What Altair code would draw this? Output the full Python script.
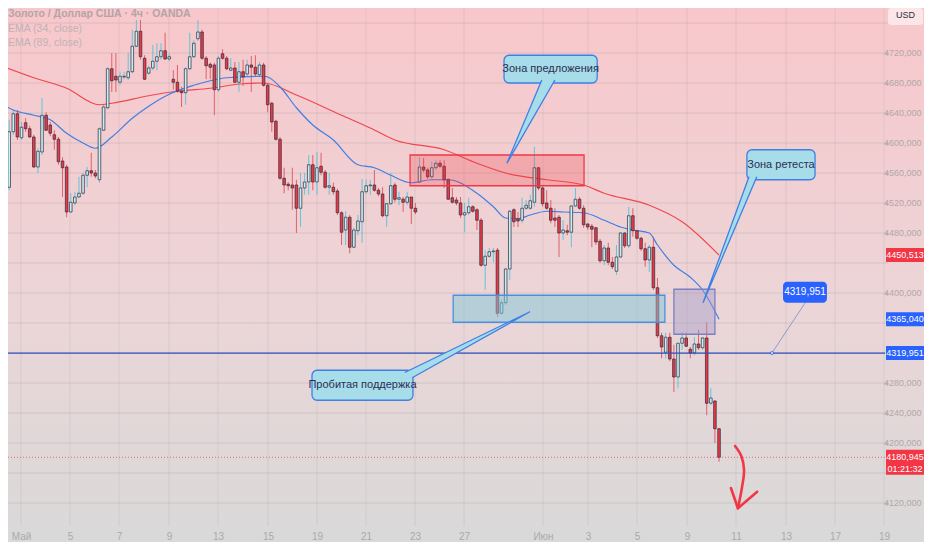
import altair as alt
import pandas as pd

# ---------------- data ----------------
OPEN = [4540,4568,4541,4615,4639,4607,4627,4619,4608,4568,4588,4637,4624,4611,4605,4576,4568,4508,4520,4528,
        4533,4557,4563,4560,4551,4617,4647,4699,4689,4681,4688,4687,4695,4729,4749,4713,4693,4700,4709,4715,
        4723,4712,4685,4681,4669,4667,4699,4715,4739,4748,4713,4705,4704,4671,4719,4713,4697,4700,4681,4695,
        4692,4704,4701,4691,4704,4677,4653,4629,4605,4553,4545,4544,4544,4513,4540,4548,4571,4548,4569,4561,
        4541,4541,4536,4507,4484,4501,4461,4483,4495,4535,4543,4544,4537,4532,4503,4519,4544,4525,4525,4521,
        4528,4513,4548,4568,4564,4555,4567,4573,4569,4551,4527,4524,4520,4504,4507,4515,4511,4497,4437,4449,
        4455,4457,4373,4387,4432,4511,4499,4497,4513,4513,4521,4567,4540,4520,4513,4500,4501,4480,4483,4481,
        4516,4525,4513,4492,4489,4487,4469,4443,4460,4441,4429,4448,4480,4463,4503,4483,4473,4459,4444,4461,
        4407,4343,4321,4341,4312,4288,4333,4340,4325,4320,4332,4327,4340,4253,4256,4219]
HIGH = [4577,4581,4631,4644,4644,4628,4633,4623,4611,4593,4660,4641,4628,4617,4608,4581,4571,4533,4535,4555,
        4560,4568,4587,4564,4621,4651,4701,4720,4720,4695,4695,4720,4751,4764,4764,4717,4703,4731,4733,4733,
        4747,4719,4697,4704,4675,4701,4747,4737,4764,4751,4716,4707,4707,4716,4725,4716,4713,4708,4708,4711,
        4711,4716,4717,4708,4707,4680,4655,4631,4608,4567,4548,4567,4551,4560,4560,4584,4584,4588,4587,4564,
        4560,4547,4539,4509,4509,4504,4487,4504,4552,4551,4551,4564,4540,4541,4520,4560,4547,4535,4528,4535,
        4528,4520,4581,4580,4567,4575,4577,4577,4577,4553,4540,4528,4528,4520,4527,4517,4513,4500,4457,4460,
        4460,4460,4391,4433,4511,4513,4508,4527,4524,4531,4595,4568,4543,4537,4524,4513,4504,4497,4491,4517,
        4540,4528,4517,4493,4492,4488,4472,4464,4467,4448,4464,4481,4481,4515,4513,4484,4475,4467,4464,4475,
        4420,4347,4347,4347,4331,4333,4348,4347,4328,4341,4351,4341,4361,4273,4257,4220]
LOW = [4535,4537,4537,4611,4604,4604,4615,4607,4567,4560,4584,4616,4609,4591,4571,4528,4501,4507,4517,4527,
       4531,4541,4555,4553,4547,4616,4645,4668,4668,4677,4685,4684,4693,4728,4711,4684,4691,4697,4697,4711,
       4711,4709,4671,4667,4648,4651,4697,4713,4736,4711,4685,4685,4637,4668,4711,4697,4696,4680,4668,4676,
       4689,4668,4689,4689,4675,4641,4615,4603,4551,4533,4537,4511,4480,4488,4531,4531,4537,4531,4557,4539,
       4531,4531,4504,4464,4464,4453,4460,4477,4467,4532,4531,4535,4529,4501,4488,4517,4521,4517,4508,4517,
       4492,4505,4547,4561,4552,4552,4564,4567,4540,4524,4519,4517,4500,4481,4504,4507,4484,4435,4404,4447,
       4441,4368,4371,4384,4417,4488,4488,4493,4511,4511,4515,4537,4515,4511,4493,4488,4448,4471,4477,4461,
       4515,4511,4487,4484,4461,4464,4440,4437,4437,4432,4424,4447,4460,4460,4475,4471,4456,4435,4428,4404,
       4340,4313,4313,4309,4268,4273,4324,4328,4313,4317,4324,4324,4237,4251,4200,4175]
CLOSE = [4569,4540,4615,4639,4608,4621,4619,4608,4568,4589,4637,4617,4613,4605,4575,4567,4508,4521,4528,4533,
         4557,4563,4560,4556,4619,4648,4699,4683,4684,4689,4689,4695,4729,4749,4715,4685,4700,4709,4715,4723,
         4712,4715,4681,4669,4667,4699,4715,4733,4748,4713,4703,4701,4671,4713,4713,4699,4700,4681,4695,4688,
         4704,4701,4692,4704,4677,4651,4628,4605,4553,4544,4543,4540,4513,4540,4548,4571,4548,4567,4561,4541,
         4543,4535,4507,4481,4501,4461,4484,4496,4535,4543,4544,4537,4532,4503,4519,4543,4525,4527,4521,4528,
         4513,4508,4568,4564,4555,4567,4573,4569,4551,4525,4521,4520,4504,4507,4515,4509,4497,4437,4449,4455,
         4456,4373,4387,4432,4509,4495,4496,4513,4517,4523,4567,4540,4519,4513,4497,4497,4480,4484,4481,4516,
         4525,4513,4491,4488,4485,4468,4443,4460,4441,4435,4448,4480,4463,4503,4483,4473,4459,4444,4461,4407,
         4343,4328,4341,4312,4288,4333,4340,4329,4320,4332,4327,4340,4253,4260,4219,4180.945]

EMA34_AT = [0,3,8,12,16,20,23,27,32,36,41,47,51,55,64,65,68,72,76,81,87,91,95,100,105,109,116,120,123,126,
            129,133,137,142,147,151,154,158,160,164,168,171,175]
EMA34 = [4653,4644,4637,4631,4613,4600,4593,4608,4633,4649,4665,4677,4683,4687,4689,4688,4675,4647,4624,4604,
         4571,4567,4557,4547,4551,4551,4533,4515,4500,4499,4504,4509,4508,4507,4497,4488,4484,4480,4464,4437,
         4421,4404,4365.04]
EMA89_AT = [0,8,16,24,27,36,43,51,59,64,72,83,90,96,108,116,123,133,142,147,158,166,175]
EMA89 = [4703,4687,4673,4651,4653,4663,4669,4673,4679,4680,4664,4637,4620,4604,4591,4573,4560,4551,4544,4533,
         4517,4495,4450.513]

X_TICK_POS = [4.87,16.82,28.76,40.95,52.89,65.07,77.02,88.96,100.9,112.84,132.1,143.07,155.01,167.19,179.14,
              191.32,203.27,215.21]
X_TICK_LABELS = ["Май","5","7","9","13","15","19","21","23","27","Июн","3","5","9","11","13","17","19"]
Y_GRID = [4120,4160,4200,4240,4280,4320,4360,4400,4440,4480,4520,4560,4600,4640,4680,4720,4760]
Y_LABELS = [4120,4200,4240,4280,4400,4480,4520,4560,4600,4640,4680,4720]

LEGEND = ["Золото / Доллар США · 4ч · OANDA", "EMA (34, close)", "EMA (89, close)"]

# drawings (bar index, price)
ZONE_NAMES = ["supply", "support", "retest"]
ZONE_X1 = [99.7, 110.2, 164.0]
ZONE_X2 = [142.1, 161.8, 174.0]
ZONE_P1 = [4584, 4397, 4405]
ZONE_P2 = [4543, 4361, 4345]

CALLOUT_TEXT = ["Зона предложения", "Зона ретеста", "Пробитая поддержка"]
CALLOUT_X1 = [122.6, 181.8, 75.8]
CALLOUT_X2 = [145.3, 198.4, 100.4]
CALLOUT_P1 = [4680, 4551, 4257]
CALLOUT_P2 = [4717, 4591, 4297]
# pointer wedges: base1 -> tip -> base2
PTR_GROUP = [0, 0, 0, 1, 1, 1, 2, 2, 2]
PTR_X = [131.8, 123.3, 135.0, 182.3, 171.1, 184.2, 98.4, 128.9, 100.2]
PTR_P = [4684, 4573, 4684, 4555, 4387, 4555, 4294, 4375, 4287]

HLINE_PRICE = 4319.951
HLINE_TAG_X = [190.6, 201.3]
HLINE_TAG_P = [4387, 4415]
HLINE_PTR_X = [196.0, 187.9]
HLINE_PTR_P = [4387, 4319.951]

ARROW_X = [178.9, 180.4, 181.1, 180.6, 179.6]
ARROW_P = [4196, 4183, 4164, 4141, 4113]
HEAD_X = [177.9, 179.6, 184.3]
HEAD_P = [4140, 4113, 4135]

TAG_PRICES = [4450.513, 4365.040, 4319.951]
TAG_COLORS = ["#f23645", "#2962ff", "#2962ff"]
LAST_PRICE = 4180.945
TIMER = "01:21:32"

# ---------------- chart ----------------
FONT = "Liberation Sans"
W, H = 877, 518          # plot area
PR, PB = 39, 16          # right / bottom axis strips
xs = alt.Scale(domain=[1.706, 215.45], nice=False, zero=False, padding=0)
ys = alt.Scale(domain=[4089.33, 4780.0], nice=False, zero=False, padding=0)

xlabel = " : ".join(f"datum.value == {p} ? '{l}'" for p, l in zip(X_TICK_POS, X_TICK_LABELS)) + " : ''"
ylabel = "replace(format(datum.value, '.3f'), '.', ',')"

AX_X = alt.Axis(values=X_TICK_POS, labelExpr=xlabel, orient="bottom", grid=False, domain=False, ticks=False,
                labelColor="#a9a9a9", labelFontSize=10, labelFont=FONT, labelPadding=5, title=None,
                labelFlush=False, labelOverlap=False, zindex=1)
AX_Y = alt.Axis(values=Y_LABELS, labelExpr=ylabel, orient="right", grid=False, domain=False, ticks=True,
                tickSize=3, tickColor="#b9a9ab", labelColor="#b1a7a9", labelFontSize=9, labelFont=FONT,
                labelPadding=33, labelAlign="right", title=None, labelOverlap=False, zindex=1)


def X(f):
    return alt.X(f, type="quantitative", scale=xs, axis=AX_X)


def Y(f):
    return alt.Y(f, type="quantitative", scale=ys, axis=AX_Y)


def fmt(v):
    return f"{v:.3f}".replace(".", ",")


candles = pd.DataFrame({"i": list(range(len(OPEN))), "o": OPEN, "h": HIGH, "l": LOW, "c": CLOSE})
bull = "datum.c >= datum.o"

bg = alt.Chart(pd.DataFrame({"k": [0]})).mark_rect(
    color=alt.Gradient(
        gradient="linear",
        stops=[alt.GradientStop(color="#f8c7cb", offset=0),
               alt.GradientStop(color="#ecd5d7", offset=0.55),
               alt.GradientStop(color="#d9d9d9", offset=1)],
        x1=0, x2=0, y1=0, y2=1)
).encode(x=alt.value(0), x2=alt.value(W + PR), y=alt.value(0), y2=alt.value(H + PB))

wick = alt.Chart(candles).mark_rule(strokeWidth=1).encode(
    x=X("i"), y=Y("l"), y2="h:Q",
    color=alt.condition(bull, alt.value("#5fc6dc"), alt.value("#e0606b")),
)
hgrid = alt.Chart(pd.DataFrame({"p": Y_GRID})).mark_rule(color="#8a8a8a", opacity=0.22, strokeWidth=1).encode(
    y=Y("p"), x=alt.value(0), x2=alt.value(W + 3))
vgrid = alt.Chart(pd.DataFrame({"i": X_TICK_POS})).mark_rule(color="#8a8a8a", opacity=0.16, strokeWidth=1).encode(
    x=X("i"), y=alt.value(0), y2=alt.value(H))
body = alt.Chart(candles).mark_bar(size=2.6, stroke="#262b3b", strokeWidth=0.7).encode(
    x=X("i"), y=Y("o"), y2="c:Q",
    color=alt.condition(bull, alt.value("#c9eef5"), alt.value("#f23645")),
)

ema34 = alt.Chart(pd.DataFrame({"i": EMA34_AT, "v": EMA34})).mark_line(
    color="#3f7fe6", strokeWidth=1.2, interpolate="monotone").encode(x=X("i"), y=Y("v"))
ema89 = alt.Chart(pd.DataFrame({"i": EMA89_AT, "v": EMA89})).mark_line(
    color="#f0474f", strokeWidth=1.2, interpolate="monotone").encode(x=X("i"), y=Y("v"))

zones = pd.DataFrame({"n": ZONE_NAMES, "x1": ZONE_X1, "x2": ZONE_X2, "p1": ZONE_P1, "p2": ZONE_P2})
zstyle = {"supply": ("#f23645", 0.25, "#f23645"),
          "support": ("#7fc7d8", 0.5, "#4a8fe0"),
          "retest": ("#9d97c9", 0.4, "#7a80c0")}
zone_layers = []
for name, (fc, fo, sc) in zstyle.items():
    zone_layers.append(
        alt.Chart(zones).transform_filter(f"datum.n == '{name}'").mark_rect(
            fill=fc, fillOpacity=fo, stroke=sc, strokeWidth=1.3).encode(
            x=X("x1"), x2="x2:Q", y=Y("p1"), y2="p2:Q"))

hline = alt.Chart(pd.DataFrame({"p": [HLINE_PRICE]})).mark_rule(color="#2f4fc4", strokeWidth=1.2).encode(
    y=Y("p"), x=alt.value(0), x2=alt.value(W))
lastline = alt.Chart(pd.DataFrame({"p": [LAST_PRICE]})).mark_rule(
    color="#f23645", strokeWidth=1, strokeDash=[1, 2], opacity=0.7).encode(
    y=Y("p"), x=alt.value(0), x2=alt.value(W))

callouts = pd.DataFrame({"t": CALLOUT_TEXT, "x1": CALLOUT_X1, "x2": CALLOUT_X2, "p1": CALLOUT_P1, "p2": CALLOUT_P2})
cbox = alt.Chart(callouts).mark_rect(fill="#a7dde8", stroke="#3f7fe6", strokeWidth=1.3, cornerRadius=5).encode(
    x=X("x1"), x2="x2:Q", y=Y("p1"), y2="p2:Q")
ptr = pd.DataFrame({"g": PTR_GROUP, "k": list(range(len(PTR_X))), "x": PTR_X, "p": PTR_P})
cptr = alt.Chart(ptr).mark_line(fill="#a7dde8", stroke="#3f7fe6", strokeWidth=1.3, strokeJoin="miter").encode(
    x=X("x"), y=Y("p"), detail="g:N", order="k:Q")
ctext = alt.Chart(callouts).transform_calculate(cx="(datum.x1 + datum.x2) / 2", cp="(datum.p1 + datum.p2) / 2").mark_text(
    font=FONT, fontSize=11, color="#2b2d55").encode(x=X("cx:Q"), y=Y("cp:Q"), text="t:N")

tagbox_df = pd.DataFrame({"x1": [HLINE_TAG_X[0]], "x2": [HLINE_TAG_X[1]], "p1": [HLINE_TAG_P[0]],
                          "p2": [HLINE_TAG_P[1]], "t": [fmt(HLINE_PRICE)]})
tagbox = alt.Chart(tagbox_df).mark_rect(fill="#2962ff", cornerRadius=4).encode(
    x=X("x1"), x2="x2:Q", y=Y("p1"), y2="p2:Q")
tagtext = alt.Chart(tagbox_df).transform_calculate(cx="(datum.x1 + datum.x2) / 2", cp="(datum.p1 + datum.p2) / 2").mark_text(
    font=FONT, fontSize=10, color="white").encode(x=X("cx:Q"), y=Y("cp:Q"), text="t:N")
tagptr_df = pd.DataFrame({"x": HLINE_PTR_X, "p": HLINE_PTR_P})
tagptr = alt.Chart(tagptr_df).mark_line(color="#8d9bd6", strokeWidth=1).encode(x=X("x"), y=Y("p"))
tagdot = alt.Chart(tagptr_df.tail(1)).mark_point(shape="circle", size=10, filled=True, color="#ffffff",
                                                 stroke="#2962ff", strokeWidth=1).encode(x=X("x"), y=Y("p"))

arrow = alt.Chart(pd.DataFrame({"x": ARROW_X, "p": ARROW_P, "k": list(range(len(ARROW_X)))})).mark_line(
    color="#f23645", strokeWidth=2.6, strokeCap="round", strokeJoin="round", interpolate="catmull-rom").encode(
    x=X("x"), y=Y("p"), order="k:Q")
head = alt.Chart(pd.DataFrame({"x": HEAD_X, "p": HEAD_P, "k": list(range(len(HEAD_X)))})).mark_line(
    color="#f23645", strokeWidth=2.6, strokeCap="round", strokeJoin="round").encode(
    x=X("x"), y=Y("p"), order="k:Q")

BX1, BX2, BXC = W + 1, W + PR, W + 20
tags = pd.DataFrame({"p": TAG_PRICES, "col": TAG_COLORS, "t": [fmt(v) for v in TAG_PRICES]})
axtag = alt.Chart(tags).mark_rect(yOffset=-7, y2Offset=7).encode(
    x=alt.value(BX1), x2=alt.value(BX2), y=Y("p"), y2="p:Q", color=alt.Color("col:N", scale=None))
axtagtext = alt.Chart(tags).mark_text(font=FONT, fontSize=9, color="white").encode(
    x=alt.value(BXC), y=Y("p"), text="t:N")
last = pd.DataFrame({"p": [LAST_PRICE], "t": [fmt(LAST_PRICE)], "tm": [TIMER]})
lastbox = alt.Chart(last).mark_rect(fill="#f23645", yOffset=-7.5, y2Offset=17.5).encode(
    x=alt.value(BX1), x2=alt.value(BX2), y=Y("p"), y2="p:Q")
lasttext = alt.Chart(last).mark_text(font=FONT, fontSize=9, color="white").encode(
    x=alt.value(BXC), y=Y("p"), text="t:N")
lasttimer = alt.Chart(last).mark_text(font=FONT, fontSize=9, color="white", dy=12).encode(
    x=alt.value(BXC), y=Y("p"), text="tm:N")

usd_box = alt.Chart(pd.DataFrame({"k": [0]})).mark_rect(fill="#ffffff", opacity=0.55, cornerRadius=3).encode(
    x=alt.value(W + 3), x2=alt.value(W + PR - 1), y=alt.value(0), y2=alt.value(17))
usd_text = alt.Chart(pd.DataFrame({"t": ["USD"]})).mark_text(
    font=FONT, fontSize=9, color="#2a2e45", align="left").encode(x=alt.value(W + 11), y=alt.value(7), text="t:N")

leg = pd.DataFrame({"t": LEGEND, "r": [0, 1, 2]})
legend_layers = []
for r, (yy, col) in enumerate([(6, "#b3a4a7"), (21, "#c2b2b5"), (35, "#c2b2b5")]):
    legend_layers.append(
        alt.Chart(leg).transform_filter(f"datum.r == {r}").mark_text(
            font=FONT, fontSize=10.5, color=col, align="left", fontWeight="bold" if r == 0 else "normal").encode(
            x=alt.value(0), y=alt.value(yy), text="t:N"))

chart = alt.layer(
    bg, wick, hgrid, vgrid, ema89, ema34, body, *zone_layers, hline, lastline,
    tagptr, tagdot, tagbox, tagtext, cbox, cptr, ctext, arrow, head,
    axtag, axtagtext, lastbox, lasttext, lasttimer, usd_box, usd_text, *legend_layers
).properties(
    width=W, height=H,
    padding={"left": 0, "top": 0, "right": PR, "bottom": PB},
    autosize=alt.AutoSizeParams(type="none"),
).configure_view(strokeWidth=0)

chart.save("out.html", embed_options={"renderer": "svg", "actions": False})
